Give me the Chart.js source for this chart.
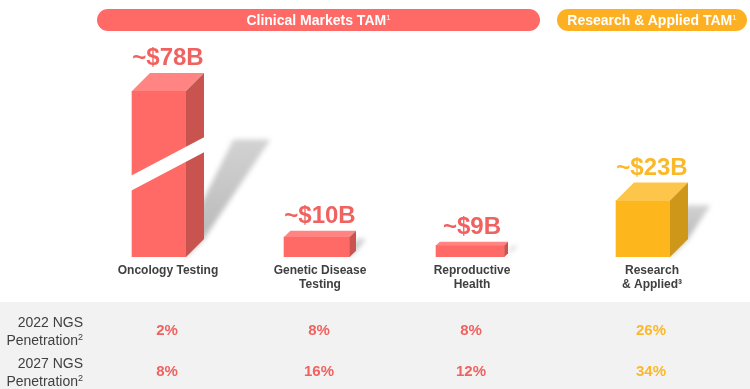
<!DOCTYPE html>
<html>
<head>
<meta charset="utf-8">
<title>TAM</title>
<script src="https://cdn.jsdelivr.net/npm/chart.js@4"></script>
<style>
  html, body { margin: 0; padding: 0; background: #fff; }
  body { position: relative; width: 750px; height: 389px; overflow: hidden; font-family: "Liberation Sans", Arial, sans-serif; }
  canvas { position: absolute; left: 0; top: 0; }
  sup { font-size: 8px; line-height: 0; vertical-align: 5px; font-weight: normal; }
  .banner { position: absolute; top: 9px; height: 22px; line-height: 22px; border-radius: 11px; color: #fff; font-weight: bold; font-size: 14px; text-align: center; }
  .band { position: absolute; left: 0; top: 302px; width: 750px; height: 87px; background: #f2f2f2; }
  .rowName { position: absolute; left: 0; width: 83px; text-align: right; font-size: 14px; line-height: 18px; color: #404040; }
  .rowName sup { font-size: 9px; vertical-align: 5px; }
  .cell { position: absolute; width: 80px; text-align: center; font-weight: bold; font-size: 15px; line-height: 18px; }
</style>
</head>
<body>
<div class="band"></div>
<canvas id="tamChart" width="750" height="389"></canvas>
<script>
// data
const categories = [['Oncology Testing'], ['Genetic Disease', 'Testing'], ['Reproductive', 'Health'], ['Research', '& Applied³']];
const tamValues = [78, 10, 9, 23];
const tamLabels = ['~$78B', '~$10B', '~$9B', '~$23B'];
const penetration2022 = ['2%', '8%', '8%', '26%'];
const penetration2027 = ['8%', '16%', '12%', '34%'];
const rowNames = ['2022 NGS', '2027 NGS'];

const RED = { front: '#ff6a66', top: '#ff8482', side: '#c9534f', text: '#f0625f' };
const GOLD = { front: '#fdb71c', top: '#fdc549', side: '#cf971a', text: '#fbb829' };
const barStyles = [RED, RED, RED, GOLD];

// x axis with an extra gap before the research group
class GroupedCategoryScale extends Chart.CategoryScale {
  static id = 'groupedCategory';
  static defaults = {};
  getPixelForValue(value, index) {
    const i = typeof value === 'number' ? value : this.parse(value, index);
    const gap = this.options.groupGap;
    const extra = i >= this.options.groupStart ? gap : 0;
    return this.left + this.width * (i + 0.5 + extra) / (this.ticks.length + gap);
  }
}

// y axis is not to scale in the slide, so follow its uneven steps
class SteppedScale extends Chart.LinearScale {
  static id = 'stepped';
  static defaults = {};
  getPixelForValue(value) {
    const v = this.options.stepValues, f = this.options.stepFractions;
    let i = 1;
    while (i < v.length - 1 && value > v[i]) i++;
    const frac = f[i - 1] + (f[i] - f[i - 1]) * (value - v[i - 1]) / (v[i] - v[i - 1]);
    return this.getPixelForDecimal(frac);
  }
}
Chart.register(GroupedCategoryScale, SteppedScale);

// turns the flat bars into boxes with a shadow behind them
const boxPlugin = {
  id: 'boxes',
  afterDatasetsUpdate(chart) {
    chart.getDatasetMeta(0).data.forEach(bar => {
      const h = bar.base - bar.y;
      bar.depth = Math.min(18, h * 0.32);
      bar.slotX = bar.x;
      bar.x -= bar.depth / 2;
      bar.width -= bar.depth;
    });
  },
  beforeDatasetsDraw(chart) {
    const ctx = chart.ctx;
    ctx.save();
    ctx.filter = 'blur(2.5px)';
    chart.getDatasetMeta(0).data.forEach(bar => {
      const h = bar.base - bar.y;
      const right = bar.x + bar.width / 2;
      const backX = right + bar.depth;
      const backY = bar.base - bar.depth;
      const tipX = backX + Math.max(10, h * 0.4);
      const tipY = backY - Math.max(6, h * 0.6);
      const tipLeft = tipX - Math.min(37, h * 0.45);
      const grad = ctx.createLinearGradient(0, backY, 0, tipY);
      grad.addColorStop(0, '#bababa');
      grad.addColorStop(1, '#d2d2d2');
      ctx.fillStyle = grad;
      ctx.beginPath();
      ctx.moveTo(right, bar.base);
      ctx.lineTo(backX, backY);
      ctx.lineTo(tipX, tipY);
      ctx.lineTo(tipLeft, tipY);
      ctx.lineTo(right, Math.min(bar.base, tipY + (tipLeft - right) * 2));
      ctx.closePath();
      ctx.fill();
    });
    ctx.restore();
  },
  afterDatasetsDraw(chart) {
    const ctx = chart.ctx;
    ctx.save();
    chart.getDatasetMeta(0).data.forEach((bar, i) => {
      const s = barStyles[i];
      const left = bar.x - bar.width / 2;
      const right = bar.x + bar.width / 2;
      const d = bar.depth;
      ctx.fillStyle = s.top;
      ctx.beginPath();
      ctx.moveTo(left, bar.y);
      ctx.lineTo(left + d, bar.y - d);
      ctx.lineTo(right + d, bar.y - d);
      ctx.lineTo(right, bar.y);
      ctx.closePath();
      ctx.fill();
      ctx.fillStyle = s.side;
      ctx.beginPath();
      ctx.moveTo(right, bar.y);
      ctx.lineTo(right + d, bar.y - d);
      ctx.lineTo(right + d, bar.base - d);
      ctx.lineTo(right, bar.base);
      ctx.closePath();
      ctx.fill();

      // white slash marks the axis break on the tallest bar
      if (tamValues[i] === Math.max(...tamValues)) {
        const h = bar.base - bar.y;
        const yLeft = bar.y + h * 0.51;
        const yRight = yLeft - 39;
        ctx.fillStyle = '#fff';
        ctx.beginPath();
        ctx.moveTo(left - 1, yLeft);
        ctx.lineTo(right + d + 1, yRight);
        ctx.lineTo(right + d + 1, yRight + 15);
        ctx.lineTo(left - 1, yLeft + 15);
        ctx.closePath();
        ctx.fill();
      }

      ctx.fillStyle = s.text;
      ctx.font = 'bold 24px "Liberation Sans", Arial, sans-serif';
      ctx.textAlign = 'center';
      ctx.textBaseline = 'alphabetic';
      ctx.fillText(tamLabels[i], bar.slotX, bar.y - d - 8);
    });
    ctx.restore();
  }
};

const tamChart = new Chart(document.getElementById('tamChart').getContext('2d'), {
  type: 'bar',
  data: {
    labels: categories,
    datasets: [{
      label: 'TAM ($B)',
      data: tamValues,
      backgroundColor: barStyles.map(s => s.front),
      barThickness: 72
    }]
  },
  options: {
    responsive: false,
    animation: false,
    layout: { padding: { left: 92, right: 22, top: 91, bottom: 0 } },
    plugins: { legend: { display: false }, tooltip: { enabled: false } },
    scales: {
      x: {
        type: 'groupedCategory',
        groupGap: 0.184,
        groupStart: 3,
        grid: { display: false, drawTicks: false },
        border: { display: false },
        afterFit(scale) { scale.height = 132; },
        ticks: {
          autoSkip: false,
          maxRotation: 0,
          padding: 6,
          color: '#404040',
          font: { family: '"Liberation Sans", Arial, sans-serif', size: 12, weight: 'bold' }
        }
      },
      y: {
        type: 'stepped',
        display: false,
        min: 0,
        max: 78,
        stepValues: [0, 9, 10, 23, 78],
        stepFractions: [0, 0.07, 0.12, 0.34, 1]
      }
    }
  },
  plugins: [boxPlugin]
});

// header pills and the table under the chart
function addDiv(className, css, html) {
  const el = document.createElement('div');
  el.className = className;
  el.style.cssText = css;
  el.innerHTML = html;
  document.body.appendChild(el);
}
addDiv('banner', 'left:97px;width:443px;background:#ff6a66', 'Clinical Markets TAM<sup>1</sup>');
addDiv('banner', 'left:557px;width:190px;background:#fdb022', 'Research &amp; Applied TAM<sup>1</sup>');

[penetration2022, penetration2027].forEach((row, r) => {
  addDiv('rowName', 'top:' + (313 + r * 41) + 'px', rowNames[r] + '<br>Penetration<sup>2</sup>');
  row.forEach((txt, i) => {
    const x = tamChart.scales.x.getPixelForTick(i) - 1;
    addDiv('cell', 'left:' + (x - 40) + 'px;top:' + (321 + r * 41) + 'px;color:' + barStyles[i].text, txt);
  });
});
</script>
</body>
</html>
